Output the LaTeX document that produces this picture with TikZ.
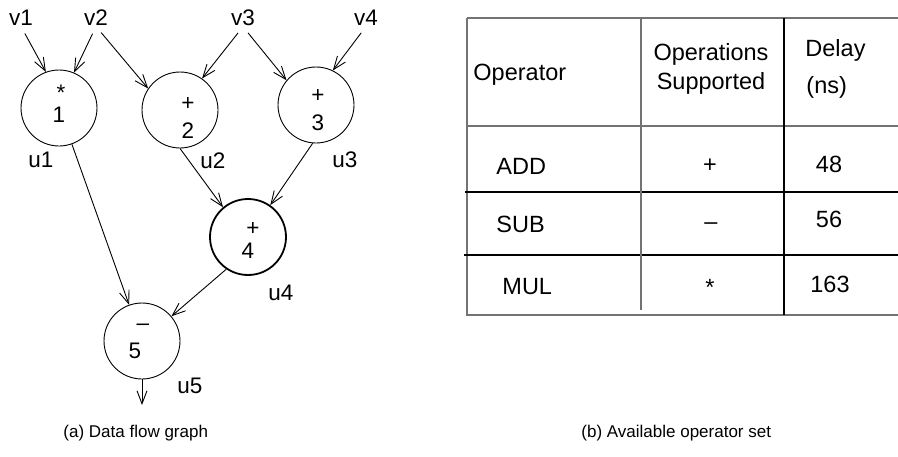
\documentclass[tikz,border=0pt]{standalone}
\usepackage{fontspec}
\setmainfont{Liberation Sans}
\usetikzlibrary{arrows.meta}

\newcommand{\lblfont}{\fontsize{22.5}{26}\selectfont}
\newcommand{\tabfont}{\fontsize{23.5}{28}\selectfont}
\newcommand{\capfont}{\fontsize{17}{20}\selectfont}

\begin{document}
\begin{tikzpicture}[x=1pt,y=-1pt,line width=0.9pt,
  >={Straight Barb[length=13pt,width=10pt]},
  op/.style={circle,draw,minimum size=76pt,inner sep=0pt},
  txt/.style={anchor=base,font=\lblfont,inner sep=1pt},
  cell/.style={anchor=base west,font=\tabfont,inner sep=0pt},
  num/.style={anchor=base,font=\tabfont,inner sep=0pt},
  rule/.style={line width=1.1pt},
  grayrule/.style={line width=1.1pt,draw=black!55}]

\useasboundingbox (0,0) rectangle (898,456);

% data flow graph
\node (u1) at (59,108) [op] {};
\node (u2) at (180,110) [op] {};
\node (u3) at (316,105) [op] {};
\node (u4) at (248,237) [op,line width=1.8pt] {};
\node (u5) at (142,341) [op] {};
\node (out) [coordinate] at (142,405) {};

\node (op1) at (61,100) [txt] {*};
\node (n1) at (59,122) [txt] {1};
\node (op2) at (188,110) [txt] {+};
\node (n2) at (188,138) [txt] {2};
\node (op3) at (318,102) [txt] {+};
\node (n3) at (318,130) [txt] {3};
\node (op4) at (253,235) [txt] {+};
\node (n4) at (248,258) [txt] {4};
\node (op5) at (143,330) [txt] {--};
\node (n5) at (135,358) [txt] {5};

\node (v1) at (21,25) [txt] {v1};
\node (v2) at (96,25) [txt] {v2};
\node (v3) at (243,25) [txt] {v3};
\node (v4) at (366,25) [txt] {v4};
\node (l1) at (41,167) [txt] {u1};
\node (l2) at (213,168) [txt] {u2};
\node (l3) at (345,167) [txt] {u3};
\node (l4) at (281,300) [txt] {u4};
\node (l5) at (190,393) [txt] {u5};

\path [->,shorten <=8pt]
    (v1.south) edge (u1.110)
    (v2.south) edge (u1.67)
    (v2.south) edge (u2.146)
    (v3.south) edge (u2.55)
    (v3.south) edge (u3.140)
    (v4.south) edge (u3.64)
;
\path [->]
    (u1) edge (u5)
    (u2.south) edge (u4.130)
    (u3.265) edge (u4.55)
    (u4.236) edge (u5.40)
    (u5.south) edge (out)
;

% operator table
\draw [grayrule] (467,18) -- (898,18);
\draw [grayrule] (467,18) -- (467,315) -- (898,315);
\draw [grayrule] (467,126) -- (898,126);
\draw [rule] (465,192) -- (898,192);
\draw [rule] (464,255) -- (898,255);
\draw [grayrule] (641,18) -- (641,310);
\draw [rule] (784,18) -- (784,315);

\node (hop) at (473,80) [cell] {Operator};
\node (hsup1) at (711,60) [num] {Operations};
\node (hsup2) at (711,89) [num] {Supported};
\node (hdel1) at (805,56) [cell] {Delay};
\node (hdel2) at (806,93) [cell] {(ns)};

\node (add) at (496,174) [cell] {ADD};
\node (sub) at (496,232) [cell] {SUB};
\node (mul) at (502,294) [cell] {MUL};
\node (sadd) at (710,172) [num] {+};
\node (ssub) at (711,229) [num] {--};
\node (smul) at (710,295) [num] {*};
\node (dadd) at (829,172) [num] {48};
\node (dsub) at (829,227) [num] {56};
\node (dmul) at (830,292) [num] {163};

% captions
\node (capa) at (63,437) [anchor=base west,font=\capfont,inner sep=0pt] {(a) Data flow graph};
\node (capb) at (581,437) [anchor=base west,font=\capfont,inner sep=0pt] {(b) Available operator set};

\end{tikzpicture}
\end{document}
